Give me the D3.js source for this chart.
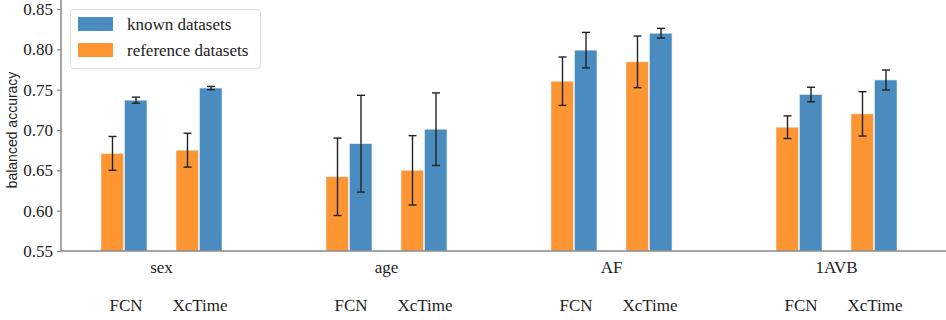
<!DOCTYPE html>
<html>
<head>
<meta charset="utf-8">
<script src="https://cdn.jsdelivr.net/npm/d3@7"></script>
<style>
  body { margin: 0; background: #fff; }
  svg { display: block; }
  .serif { font-family: "Liberation Serif", "DejaVu Serif", serif; }
  .sans { font-family: "Liberation Sans", "DejaVu Sans", sans-serif; }
</style>
</head>
<body>
<div id="chart"></div>
<script>
var tasks = ["sex", "age", "AF", "1AVB"];
var models = ["FCN", "XcTime"];
var series = ["reference datasets", "known datasets"];
// values per task, per model: [FCN, XcTime]
var refMean = [[0.671, 0.675], [0.642, 0.650], [0.7605, 0.7845], [0.7035, 0.720]];
var refErr  = [[0.021, 0.021], [0.048, 0.043], [0.030, 0.032], [0.014, 0.0275]];
var knownMean = [[0.737, 0.752], [0.683, 0.701], [0.799, 0.820], [0.744, 0.762]];
var knownErr  = [[0.0037, 0.002], [0.060, 0.045], [0.022, 0.006], [0.009, 0.0124]];
var yTicks = [0.55, 0.60, 0.65, 0.70, 0.75, 0.80, 0.85];

var colors = {"reference datasets": "#fd9532", "known datasets": "#4a8bc0"};

var width = 946, height = 320;
var svg = d3.select("#chart").append("svg")
    .attr("width", width).attr("height", height);

var y = d3.scaleLinear().domain([0.55, 0.85]).range([251, 9]);
var xTask = d3.scaleBand().domain(tasks).range([49, 949]).padding(0);
var xModel = d3.scaleBand().domain(models).range([-75, 75]).paddingInner(0);
var barW = 23;

var rows = [];
tasks.forEach(function(t, i) {
  models.forEach(function(m, j) {
    rows.push({task: t, model: m, s: "reference datasets", v: refMean[i][j], e: refErr[i][j], off: -barW});
    rows.push({task: t, model: m, s: "known datasets", v: knownMean[i][j], e: knownErr[i][j], off: 0.5});
  });
});

function pairCenter(d) {
  return xTask(d.task) + xTask.bandwidth() / 2 + xModel(d.model) + xModel.bandwidth() / 2;
}

var g = svg.append("g");

g.selectAll("rect.bar").data(rows).enter().append("rect")
  .attr("class", "bar")
  .attr("x", function(d) { return pairCenter(d) + d.off; })
  .attr("width", barW - 0.5)
  .attr("y", function(d) { return y(d.v); })
  .attr("height", function(d) { return y(0.55) - y(d.v); })
  .attr("fill", function(d) { return colors[d.s]; })
  .attr("stroke", "#e8f0f8").attr("stroke-width", 0.6);

var eb = g.selectAll("g.err").data(rows).enter().append("g")
  .attr("class", "err")
  .attr("stroke", "#222").attr("stroke-width", 1.4);
function cx(d) { return pairCenter(d) + d.off + barW / 2; }
eb.append("line")
  .attr("x1", cx).attr("x2", cx)
  .attr("y1", function(d) { return y(d.v + d.e); })
  .attr("y2", function(d) { return y(d.v - d.e); });
eb.append("line")
  .attr("x1", function(d) { return cx(d) - 4; }).attr("x2", function(d) { return cx(d) + 4; })
  .attr("y1", function(d) { return y(d.v + d.e); }).attr("y2", function(d) { return y(d.v + d.e); });
eb.append("line")
  .attr("x1", function(d) { return cx(d) - 4; }).attr("x2", function(d) { return cx(d) + 4; })
  .attr("y1", function(d) { return y(d.v - d.e); }).attr("y2", function(d) { return y(d.v - d.e); });

// y axis
var yAxis = svg.append("g").attr("transform", "translate(61,0)")
  .call(d3.axisLeft(y).tickValues(yTicks).tickFormat(d3.format(".2f")).tickSize(4).tickPadding(4));
yAxis.attr("font-family", null).attr("font-size", null);
yAxis.select(".domain").attr("d", "M0,0V251").attr("stroke", "#888").attr("stroke-width", 1.5);
yAxis.selectAll(".tick line").attr("stroke", "#888").attr("stroke-width", 1.2);
yAxis.selectAll(".tick text")
  .attr("class", "serif")
  .style("font-size", "17px").attr("fill", "#222");

// x axis line
svg.append("line").attr("x1", 61).attr("x2", 946).attr("y1", 251).attr("y2", 251)
  .attr("stroke", "#888").attr("stroke-width", 1.5);

svg.selectAll("text.task").data(tasks).enter().append("text")
  .attr("class", "task serif")
  .attr("x", function(t) { return xTask(t) + xTask.bandwidth() / 2; })
  .attr("y", 273).attr("text-anchor", "middle")
  .style("font-size", "17px").attr("fill", "#222")
  .text(function(t) { return t; });

var modelLabels = [];
tasks.forEach(function(t) { models.forEach(function(m) { modelLabels.push({task: t, model: m}); }); });
svg.selectAll("text.model").data(modelLabels).enter().append("text")
  .attr("class", "model serif")
  .attr("x", function(d) { return pairCenter(d) + (d.model === "FCN" ? 2 : 1); })
  .attr("y", 311).attr("text-anchor", "middle")
  .style("font-size", "17px").attr("fill", "#222")
  .text(function(d) { return d.model; });

// y label
svg.append("text")
  .attr("class", "sans")
  .attr("transform", "translate(17,130) rotate(-90)")
  .attr("text-anchor", "middle")
  .style("font-size", "14px").attr("fill", "#222")
  .text("balanced accuracy");

// legend
var leg = svg.append("g");
leg.append("rect").attr("x", 70.5).attr("y", 9.5).attr("width", 190).attr("height", 59).attr("rx", 3)
  .attr("fill", "#fff").attr("stroke", "#ddd");
var legItems = ["known datasets", "reference datasets"];
legItems.forEach(function(s, i) {
  leg.append("rect").attr("x", 78).attr("y", 17 + i * 26).attr("width", 35).attr("height", 14)
    .attr("fill", colors[s]);
  leg.append("text").attr("class", "serif").attr("x", 127).attr("y", 30 + i * 26)
    .style("font-size", "17px").attr("fill", "#222")
    .text(s);
});
</script>
</body>
</html>
